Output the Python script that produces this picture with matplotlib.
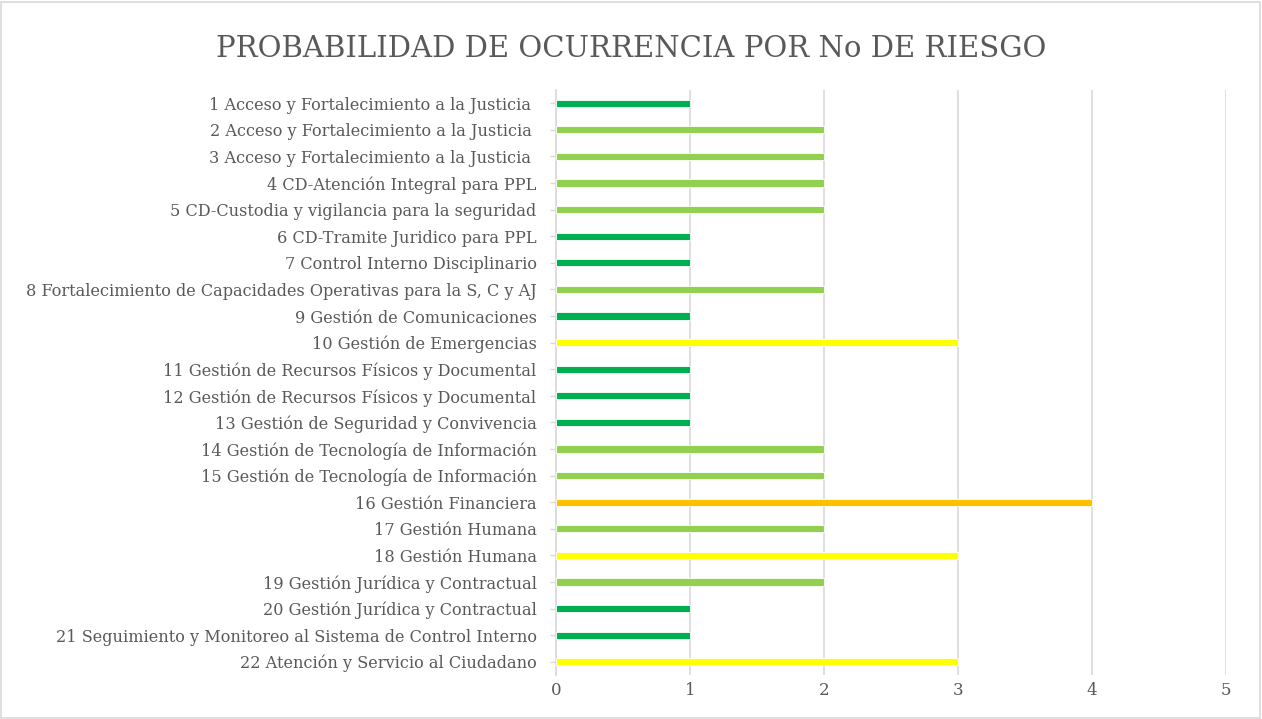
import matplotlib
matplotlib.use("Agg")
import matplotlib.pyplot as plt
from matplotlib.patches import Rectangle

categories = [
    "1 Acceso y Fortalecimiento a la Justicia ",
    "2 Acceso y Fortalecimiento a la Justicia ",
    "3 Acceso y Fortalecimiento a la Justicia ",
    "4 CD-Atención Integral para PPL",
    "5 CD-Custodia y vigilancia para la seguridad",
    "6 CD-Tramite Juridico para PPL",
    "7 Control Interno Disciplinario",
    "8 Fortalecimiento de Capacidades Operativas para la S, C y AJ",
    "9 Gestión de Comunicaciones",
    "10 Gestión de Emergencias",
    "11 Gestión de Recursos Físicos y Documental",
    "12 Gestión de Recursos Físicos y Documental",
    "13 Gestión de Seguridad y Convivencia",
    "14 Gestión de Tecnología de Información",
    "15 Gestión de Tecnología de Información",
    "16 Gestión Financiera",
    "17 Gestión Humana",
    "18 Gestión Humana",
    "19 Gestión Jurídica y Contractual",
    "20 Gestión Jurídica y Contractual",
    "21 Seguimiento y Monitoreo al Sistema de Control Interno",
    "22 Atención y Servicio al Ciudadano",
]
values = [1, 2, 2, 2, 2, 1, 1, 2, 1, 3, 1, 1, 1, 2, 2, 4, 2, 3, 2, 1, 1, 3]
level_colors = {1: "#00B050", 2: "#92D050", 3: "#FFFF00", 4: "#FFC000"}
x_ticks = [0, 1, 2, 3, 4, 5]
title = "PROBABILIDAD DE OCURRENCIA POR No DE RIESGO"

font = "DejaVu Serif"
text_color = "#595959"
grid_color = "#D9D9D9"

fig = plt.figure(figsize=(12.62, 7.19), dpi=100)
ax = fig.add_axes([556 / 1262, 1 - 675 / 719, (1226 - 556) / 1262, (675 - 90) / 719])

ypos = list(range(len(categories)))
colors = [level_colors[v] for v in values]
ax.barh(ypos, values, height=0.27, color=colors, edgecolor="white", linewidth=0.6, zorder=3)

ax.set_xlim(0, 5)
ax.set_ylim(len(categories) - 0.5, -0.5)
ax.set_xticks(x_ticks)
ax.set_xticklabels([str(t) for t in x_ticks], fontsize=12, color=text_color, family=font)
ax.set_yticks(ypos)
ax.set_yticklabels(categories, fontsize=11.65, color=text_color, family=font)

ax.xaxis.grid(True, color=grid_color, linewidth=1.2, zorder=0)
ax.set_axisbelow(True)
for s in ["top", "right", "bottom"]:
    ax.spines[s].set_visible(False)
ax.spines["left"].set_color(grid_color)
ax.spines["left"].set_linewidth(1.2)
ax.tick_params(axis="x", length=0, pad=5)
ax.tick_params(axis="y", length=4, color=grid_color, width=1, pad=10)

fig.text(0.5, 1 - 49 / 719, title, ha="center", va="center", fontsize=21,
         color=text_color, family=font)

fig.patches.append(Rectangle((1 / 1262, 1 / 719), 1 - 3 / 1262, 1 - 3 / 719,
                             transform=fig.transFigure, fill=False,
                             edgecolor=grid_color, linewidth=1.2))

fig.savefig("out.png", dpi=100)
